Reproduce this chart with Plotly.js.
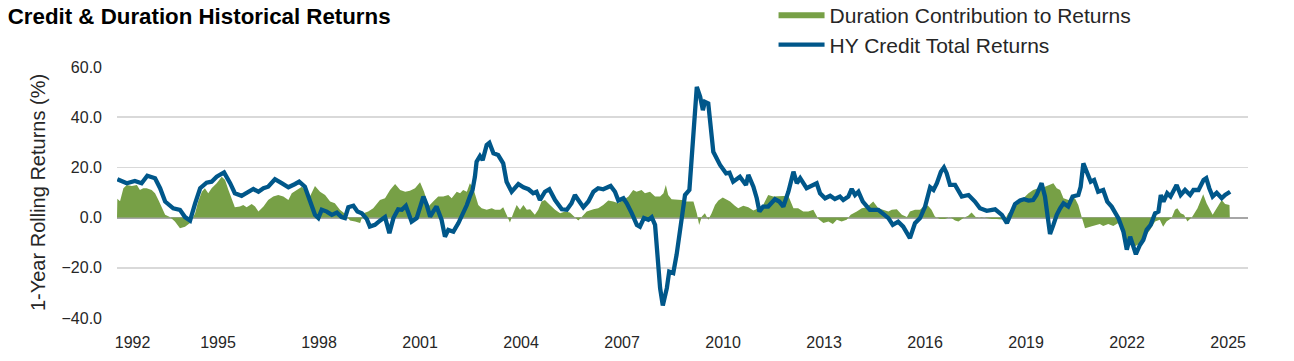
<!DOCTYPE html>
<html>
<head>
<meta charset="utf-8">
<script src="https://cdn.plot.ly/plotly-3.0.1.min.js"></script>
<style>
html,body{margin:0;padding:0;background:#fff;}
#chart{width:1294px;height:361px;}
</style>
</head>
<body>
<div id="chart"></div>
<script>
// HY Credit Total Returns (1-year rolling, %), x in decimal years
const hyYears = [1992.01,1992.29,1992.53,1992.73,1992.90,1993.13,1993.28,1993.43,1993.67,1993.87,1994.02,1994.17,1994.32,1994.47,1994.66,1994.81,1994.96,1995.18,1995.36,1995.50,1995.70,1995.90,1996.05,1996.20,1996.35,1996.49,1996.69,1996.89,1997.09,1997.29,1997.41,1997.58,1997.73,1997.88,1997.98,1998.08,1998.23,1998.38,1998.53,1998.67,1998.77,1998.87,1999.02,1999.14,1999.27,1999.42,1999.51,1999.66,1999.81,1999.96,2000.09,2000.21,2000.35,2000.46,2000.58,2000.65,2000.75,2000.90,2000.98,2001.10,2001.20,2001.30,2001.39,2001.49,2001.64,2001.74,2001.84,2001.99,2002.14,2002.28,2002.39,2002.48,2002.56,2002.63,2002.68,2002.78,2002.86,2002.98,2003.06,2003.18,2003.32,2003.47,2003.57,2003.72,2003.92,2004.07,2004.22,2004.36,2004.46,2004.56,2004.71,2004.84,2005.01,2005.21,2005.36,2005.50,2005.60,2005.70,2005.85,2006.00,2006.15,2006.29,2006.44,2006.54,2006.66,2006.79,2006.89,2007.04,2007.14,2007.29,2007.44,2007.53,2007.65,2007.78,2007.88,2007.98,2008.03,2008.13,2008.21,2008.33,2008.40,2008.52,2008.62,2008.77,2008.87,2009.00,2009.10,2009.22,2009.32,2009.40,2009.46,2009.56,2009.71,2009.91,2010.09,2010.19,2010.30,2010.50,2010.68,2010.75,2010.90,2011.00,2011.08,2011.19,2011.34,2011.54,2011.67,2011.79,2011.94,2012.09,2012.19,2012.29,2012.48,2012.63,2012.78,2012.88,2013.03,2013.18,2013.32,2013.47,2013.57,2013.72,2013.82,2013.92,2014.02,2014.15,2014.36,2014.61,2014.76,2014.91,2015.04,2015.20,2015.35,2015.46,2015.55,2015.70,2015.85,2016.00,2016.15,2016.25,2016.35,2016.47,2016.56,2016.64,2016.74,2016.89,2017.09,2017.29,2017.48,2017.63,2017.83,2018.08,2018.28,2018.43,2018.53,2018.67,2018.82,2018.94,2019.07,2019.21,2019.31,2019.46,2019.56,2019.66,2019.71,2019.81,2019.91,2020.01,2020.11,2020.25,2020.38,2020.55,2020.62,2020.70,2020.80,2020.92,2021.02,2021.14,2021.29,2021.41,2021.54,2021.74,2021.89,2021.99,2022.09,2022.17,2022.26,2022.38,2022.48,2022.58,2022.70,2022.83,2022.93,2023.00,2023.08,2023.19,2023.29,2023.47,2023.59,2023.72,2023.87,2023.97,2024.12,2024.27,2024.35,2024.44,2024.54,2024.66,2024.81,2024.91,2025.06];
const hyValues = [15.3,13.7,14.6,13.7,16.7,15.7,11.7,6.4,3.7,3.1,0.2,-1.2,5.7,11.7,13.9,14.3,16.3,18.0,13.7,9.7,8.7,10.3,11.4,10.3,11.7,12.3,15.3,13.7,12.1,13.4,14.3,12.3,7.0,1.1,-0.2,3.1,2.4,1.1,2.0,0.2,-0.2,4.1,4.7,2.4,1.7,-0.6,-3.6,-2.9,-1.2,0.2,-6.2,-0.2,3.3,3.1,4.7,1.7,-1.6,-0.2,3.1,8.4,5.0,0.4,2.4,4.4,-0.9,-7.6,-4.9,-5.6,-2.2,1.7,5.0,8.4,11.0,16.3,22.3,24.5,22.9,28.9,29.8,25.6,24.9,21.6,14.3,10.3,13.4,12.1,11.3,9.7,10.3,7.0,10.3,11.3,7.0,3.3,3.1,5.7,9.0,7.0,4.1,6.4,10.3,11.7,11.3,11.9,12.6,10.3,6.8,7.7,5.7,1.7,-2.9,-3.6,-0.2,-0.9,0.2,-2.9,-10.9,-28.1,-35.0,-28.1,-21.5,-22.1,-14.8,-1.6,9.0,11.0,31.6,52.1,48.1,42.8,46.1,45.5,26.2,21.0,17.6,17.9,14.3,16.3,13.0,17.0,12.3,7.7,2.4,4.4,4.4,7.3,6.4,4.4,10.3,18.3,13.7,15.7,11.7,12.6,13.7,9.7,7.7,8.7,7.4,8.4,7.0,8.4,11.4,9.0,10.3,6.4,3.1,3.1,1.7,-0.2,-2.9,-1.6,-3.6,-6.2,-8.2,-2.2,-0.2,4.4,12.1,11.0,13.7,18.3,20.0,17.7,13.0,13.0,8.4,9.0,6.4,3.7,2.7,3.3,1.1,-2.2,1.1,5.4,6.8,7.3,6.8,7.0,9.0,13.7,8.4,-2.2,-6.5,-2.9,1.1,3.7,5.7,4.4,8.4,9.0,12.3,21.6,18.3,14.3,15.0,10.3,11.0,6.4,4.4,-0.2,-5.6,-12.8,-7.6,-10.9,-14.6,-10.9,-8.9,-4.9,-2.9,1.7,2.4,9.0,6.4,9.7,8.4,13.0,9.0,11.0,9.0,11.0,11.0,15.0,15.7,11.7,8.4,9.9,7.7,9.0,10.3];

// Duration Contribution to Returns (%), x in decimal years
const durYears = [1992.00,1992.01,1992.09,1992.19,1992.29,1992.44,1992.59,1992.68,1992.78,1992.88,1993.03,1993.13,1993.23,1993.33,1993.43,1993.57,1993.72,1993.87,1994.02,1994.17,1994.32,1994.41,1994.52,1994.61,1994.71,1994.81,1994.96,1995.11,1995.21,1995.31,1995.41,1995.50,1995.65,1995.75,1995.85,1996.00,1996.10,1996.20,1996.35,1996.49,1996.64,1996.79,1996.94,1997.09,1997.19,1997.34,1997.49,1997.58,1997.73,1997.88,1998.03,1998.18,1998.33,1998.47,1998.62,1998.77,1998.92,1999.07,1999.22,1999.32,1999.46,1999.61,1999.81,1999.96,2000.11,2000.26,2000.41,2000.56,2000.70,2000.85,2001.00,2001.12,2001.25,2001.39,2001.54,2001.69,2001.84,2001.94,2002.09,2002.19,2002.28,2002.39,2002.48,2002.58,2002.73,2002.83,2002.98,2003.13,2003.23,2003.38,2003.47,2003.57,2003.67,2003.77,2003.87,2003.97,2004.07,2004.17,2004.27,2004.41,2004.51,2004.61,2004.71,2004.86,2005.01,2005.16,2005.31,2005.45,2005.60,2005.70,2005.80,2005.95,2006.15,2006.29,2006.44,2006.59,2006.74,2006.89,2007.04,2007.19,2007.33,2007.43,2007.58,2007.68,2007.83,2007.98,2008.13,2008.23,2008.30,2008.37,2008.47,2008.62,2008.77,2008.87,2009.12,2009.22,2009.29,2009.37,2009.46,2009.56,2009.66,2009.76,2009.86,2009.99,2010.11,2010.21,2010.35,2010.45,2010.60,2010.75,2010.90,2011.05,2011.19,2011.34,2011.49,2011.64,2011.79,2011.94,2012.09,2012.23,2012.38,2012.53,2012.68,2012.83,2012.98,2013.13,2013.26,2013.38,2013.52,2013.67,2013.79,2013.97,2014.12,2014.27,2014.46,2014.61,2014.76,2014.91,2015.01,2015.16,2015.31,2015.46,2015.55,2015.70,2015.85,2016.00,2016.09,2016.19,2016.29,2016.44,2016.59,2016.74,2016.89,2016.99,2017.14,2017.28,2017.38,2017.53,2017.68,2017.83,2017.98,2018.13,2018.28,2018.37,2018.47,2018.62,2018.77,2018.92,2019.07,2019.21,2019.36,2019.46,2019.56,2019.71,2019.81,2019.91,2020.01,2020.11,2020.26,2020.45,2020.55,2020.65,2020.75,2020.90,2021.05,2021.19,2021.29,2021.44,2021.59,2021.74,2021.84,2021.94,2022.09,2022.23,2022.38,2022.53,2022.68,2022.83,2022.97,2023.07,2023.17,2023.32,2023.42,2023.49,2023.59,2023.69,2023.79,2023.94,2024.09,2024.26,2024.36,2024.54,2024.66,2024.81,2024.91,2025.04,2025.05];
const durValues = [0,7.5,6.5,11.7,13.0,12.6,13.0,11.0,11.7,11.7,11.0,9.7,7.0,3.7,1.1,0.2,-1.6,-4.2,-3.6,-2.2,1.7,6.4,10.3,11.7,9.7,11.7,13.7,16.3,15.0,11.0,7.0,4.1,4.4,5.0,4.1,5.4,4.4,2.4,4.4,7.0,8.4,9.0,8.4,7.0,9.7,11.0,12.3,11.0,8.4,12.6,10.3,9.0,6.4,5.7,3.1,1.5,-1.2,-1.6,-2.2,1.7,2.4,3.7,7.0,7.7,11.0,13.4,11.0,10.3,10.7,11.7,14.1,10.3,4.4,6.4,8.4,8.4,9.0,7.7,10.3,9.7,11.0,10.3,13.7,11.7,5.0,3.7,3.1,3.7,3.1,3.1,4.1,1.1,-2.0,1.7,5.0,3.1,5.0,3.1,3.3,1.1,3.1,6.4,7.0,5.0,3.1,1.7,2.4,2.0,0.2,-1.2,0.2,2.4,3.3,3.7,5.0,6.8,6.4,5.7,7.0,8.4,11.0,10.3,11.0,9.7,10.3,8.4,8.4,9.7,13.0,9.0,7.3,7.0,7.0,6.4,6.4,1.7,-2.9,0.4,1.7,-0.9,1.7,5.0,6.8,8.0,7.0,6.4,4.7,3.7,4.7,4.1,2.8,3.7,5.0,9.0,8.4,8.6,8.6,8.6,3.7,3.7,2.4,2.4,3.1,-0.6,-2.2,-1.6,-2.5,-0.9,-1.6,-0.9,1.1,2.4,3.7,4.1,6.4,3.7,3.1,2.4,3.1,3.3,1.1,0.2,2.4,3.1,3.1,5.0,4.7,3.1,0.4,-0.6,-0.6,0.2,-1.2,-1.6,-0.2,0.7,2.0,-0.2,0.2,-0.2,-0.6,-0.6,-0.9,-0.9,1.7,3.7,6.4,7.7,9.7,11.0,11.7,11.0,12.3,13.0,13.7,11.7,11.0,7.7,7.0,7.7,5.0,0.2,-4.2,-3.6,-2.9,-2.5,-3.3,-2.5,-3.3,-2.2,-5.6,-8.9,-10.9,-11.5,-10.2,-7.6,-4.9,-1.6,-0.9,-3.6,-1.6,-0.2,3.1,3.7,1.7,1.1,-1.6,0.4,3.7,9.3,5.7,1.1,3.7,7.0,5.4,5.0,0];

const xTickVals = [1992,1995,1998,2001,2004,2007,2010,2013,2016,2019,2022,2025];
const xTickText = ['\u00a0\u00a0\u00a0\u00a0\u00a0\u00a0\u00a01992','1995','1998','2001','2004','2007','2010','2013','2016','2019','2022','2025'];
const yTickVals = [-40,-20,0,20,40,60];

const FONT = 'Arial, "Liberation Sans", Helvetica, sans-serif';

const traces = [
  {
    type: 'scatter', mode: 'lines', name: 'Duration Contribution to Returns',
    x: durYears, y: durValues, fill: 'tozeroy',
    fillcolor: '#77A046', line: {width: 0, color: '#77A046'},
    hoverinfo: 'skip'
  },
  {
    type: 'scatter', mode: 'lines', name: 'HY Credit Total Returns',
    x: hyYears, y: hyValues,
    line: {width: 4.3, color: '#00578A'}
  }
];

const layout = {
  width: 1294, height: 361,
  margin: {l: 117, r: 46, t: 67, b: 43, autoexpand: false},
  paper_bgcolor: '#fff', plot_bgcolor: '#fff',
  font: {family: FONT, color: '#262626', size: 16},
  title: {
    text: '<b>Credit & Duration Historical Returns</b>',
    font: {family: FONT, size: 22.3, color: '#000'},
    xref: 'container', yref: 'container',
    x: 0.006, xanchor: 'left', y: 0.955, yanchor: 'middle',
    automargin: false
  },
  showlegend: true,
  legend: {
    xref: 'paper', yref: 'paper',
    x: 0.5805, xanchor: 'left', y: 1.29, yanchor: 'top',
    font: {family: FONT, size: 21, color: '#262626'},
    bgcolor: 'rgba(0,0,0,0)', itemwidth: 46, tracegroupgap: 0
  },
  xaxis: {
    range: [1992, 2025.59], tickvals: xTickVals, ticktext: xTickText,
    showgrid: false, zeroline: false, showline: false, ticks: '',
    ticklabelstandoff: 13,
    tickfont: {size: 16, color: '#262626'}, fixedrange: true, automargin: false
  },
  yaxis: {
    range: [-40, 60], tickvals: yTickVals, tickformat: '.1f',
    showgrid: true, gridcolor: '#D9D9D9', gridwidth: 1.5,
    zeroline: true, zerolinecolor: '#A6A6A6', zerolinewidth: 2,
    showline: false, ticks: '', ticklabelstandoff: 14,
    tickfont: {size: 16, color: '#262626'},
    title: {text: '1-Year Rolling Returns (%)', font: {size: 20, color: '#262626'}, standoff: 10},
    fixedrange: true, automargin: false
  }
};

Plotly.newPlot('chart', traces, layout, {displayModeBar: false, staticPlot: true});
</script>
</body>
</html>
